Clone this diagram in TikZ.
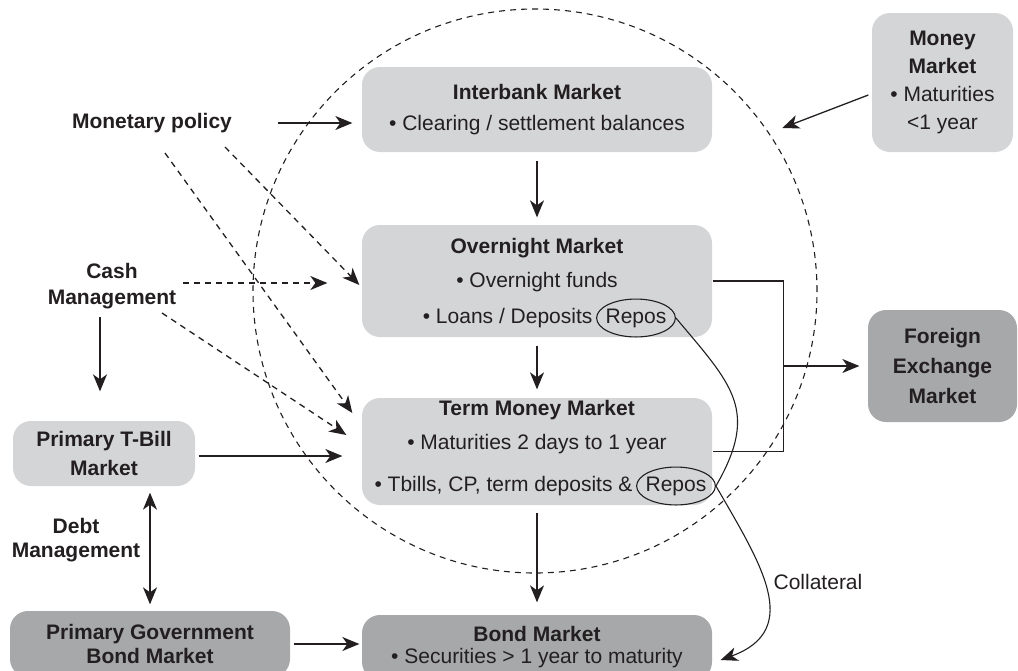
\documentclass[tikz,border=0pt]{standalone}
\usepackage{fontspec}
\setmainfont{Liberation Sans}
\usetikzlibrary{arrows.meta,positioning,shapes.geometric}

\definecolor{boxlight}{HTML}{D4D5D7}
\definecolor{boxdark}{HTML}{A7A8AA}
\definecolor{ink}{HTML}{231F20}

\newcommand{\mksize}[1]{\fontsize{21}{#1}\selectfont}

\tikzset{
  lightbox/.style={fill=boxlight, rounded corners=18pt, inner sep=0pt},
  darkbox/.style={fill=boxdark, rounded corners=18pt, inner sep=0pt},
  txt/.style={inner sep=0pt, align=center, font=\mksize{#1}},
  txt/.default=30,
  head/.style={inner sep=0pt, align=center, font=\bfseries\mksize{#1}},
  head/.default=30,
  arr/.style={-{Stealth[length=17pt,width=14pt,inset=5pt]}},
  dblarr/.style={{Stealth[length=17pt,width=14pt,inset=5pt]}-{Stealth[length=17pt,width=14pt,inset=5pt]}},
  darr/.style={arr, dash pattern=on 6pt off 5pt},
  repos/.style={txt, draw, ellipse, inner xsep=-2.5pt, inner ysep=4pt, line width=1.1pt}
}

\begin{document}
\begin{tikzpicture}[x=1pt, y=-1pt, color=ink, line width=1.3pt]
    \useasboundingbox (0,0) rectangle (1018,670);

    % dashed circle round the money markets
    \node[circle, draw, dash pattern=on 6pt off 5pt, line width=1.1pt, minimum size=564pt, inner sep=0pt] (core) at (535,291) {};

    % Money market (top right)
    \node[lightbox, txt=28, minimum width=141pt, minimum height=139pt] (money) at (942.5,82.5)
        {\textbf{Money}\\\textbf{Market}\\\textbullet\ Maturities\\<1 year};

    % Interbank market
    \node[lightbox, txt=31, minimum width=350pt, minimum height=85pt] (interbank) at (537,109.5)
        {\textbf{Interbank Market}\\\textbullet\ Clearing / settlement balances};

    % Overnight market
    \node[lightbox, minimum width=350pt, minimum height=112pt] (overnight) at (537,281) {};
    \node[txt=34] (ontitle) at (537,265) {\textbf{Overnight Market}\\\textbullet\ Overnight funds};
    \node[repos] (onrepos) at (636,318) {Repos};
    \node[txt, left=3pt of onrepos] (onloans) {\textbullet\ Loans / Deposits};

    % Term money market
    \node[lightbox, minimum width=350pt, minimum height=107pt] (term) at (537,451.5) {};
    \node[txt=34] (tmtitle) at (537,427) {\textbf{Term Money Market}\\\textbullet\ Maturities 2 days to 1 year};
    \node[repos] (tmrepos) at (676,486) {Repos};
    \node[txt, left=3pt of tmrepos] (tmbills) {\textbullet\ Tbills, CP, term deposits \&};

    % Bond market
    \node[darkbox, txt=22, minimum width=350pt, minimum height=65pt] (bond) at (537,647.5)
        {\textbf{Bond Market}\\\textbullet\ Securities > 1 year to maturity};

    % Foreign exchange market
    \node[darkbox, head=30, minimum width=149pt, minimum height=112pt] (fx) at (942.5,366)
        {Foreign\\Exchange\\Market};

    % Primary markets (left)
    \node[lightbox, head=29, minimum width=182pt, minimum height=65pt] (tbill) at (104,453.5)
        {Primary T-Bill\\Market};
    \node[darkbox, head=24, minimum width=280pt, minimum height=66pt] (pgbond) at (150,644)
        {Primary Government\\Bond Market};

    % Policy labels
    \node[head] (monetary) at (152,123) {Monetary policy};
    \node[head=26] (cash) at (112,286) {Cash\\Management};
    \node[head=24] (debt) at (76,540) {Debt\\Management};
    \node[txt] (collateral) at (818,582) {Collateral};

    % Solid arrows
    \draw[arr, shorten <=45pt, shorten >=9pt] (monetary.east) -- (interbank.west |- monetary.east);
    \draw[arr, shorten <=8pt, shorten >=7pt] (interbank.south) -- (overnight.north);
    \draw[arr, shorten <=8pt, shorten >=8pt] (overnight.south) -- (term.north);
    \draw[arr, shorten <=7pt, shorten >=12pt] (term.south) -- (bond.north);
    \draw[arr, shorten >=14pt] ([xshift=-3pt,yshift=-12.5pt]money.west) -- (core.34);
    \draw[arr] ([xshift=-12pt,yshift=-31pt]cash.center) -- ([xshift=-4pt,yshift=29pt]tbill.north);
    \draw[arr] ([xshift=3pt,yshift=-2.5pt]tbill.east) -- ([xshift=-19pt,yshift=-4.5pt]term.west);
    \draw[dblarr] ([xshift=46pt,yshift=-6pt]tbill.south) -- ([yshift=6pt]pgbond.north);
    \draw[arr, shorten <=3pt, shorten >=2pt] (pgbond.east) -- (bond.west |- pgbond.east);

    % To the foreign exchange market
    \draw (overnight.east) -- ++(71,0) coordinate (fxjoin) |- (term.east);
    \draw[arr, shorten >=8pt] (fxjoin |- fx.west) -- (fx.west);

    % Dashed arrows
    \draw[darr] ([xshift=13pt,yshift=-30pt]monetary.center) -- ([xshift=-9pt,yshift=38.5pt]term.west);
    \draw[darr] ([xshift=73pt,yshift=-24pt]monetary.center) -- ([xshift=-2pt,yshift=-4pt]overnight.west);
    \draw[darr] ([xshift=71pt,yshift=3pt]cash.center) -- ([xshift=-34pt,yshift=-2pt]overnight.west);
    \draw[darr] ([xshift=50pt,yshift=-27pt]cash.center) -- ([xshift=-15pt,yshift=16.5pt]term.west);

    % Repos links
    \draw[line width=1.1pt] (onrepos.east) to[out=-50, in=60, looseness=1.3] (tmrepos.east);
    \draw[arr, line width=1.1pt] (tmrepos.east) to[out=-60, in=20, looseness=1.3] ([xshift=8pt,yshift=-12.5pt]bond.east);
\end{tikzpicture}
\end{document}
